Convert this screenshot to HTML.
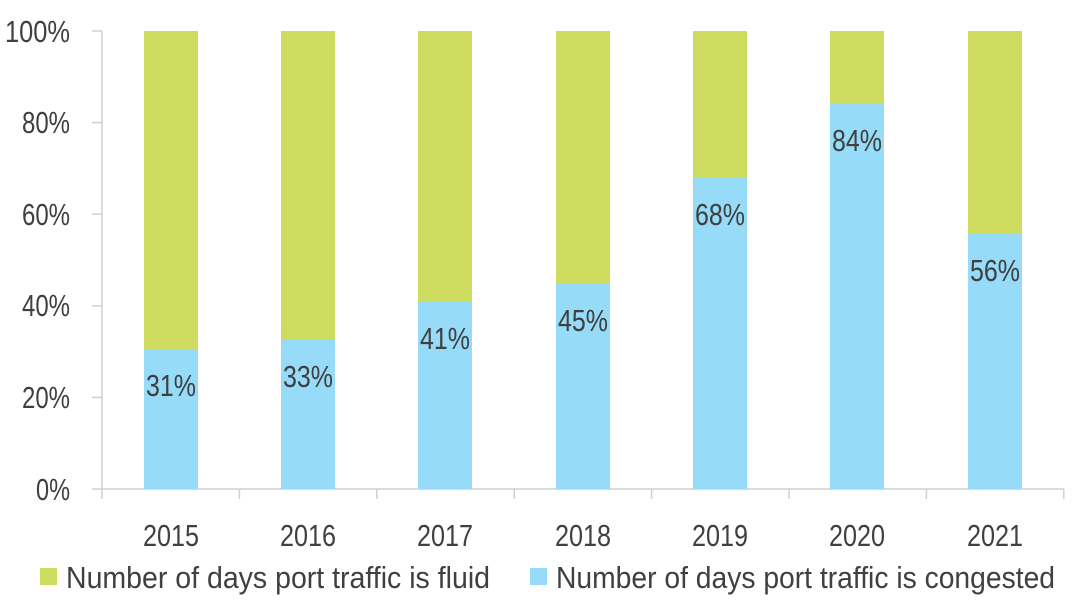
<!DOCTYPE html>
<html><head><style>
body{margin:0;background:#fff;}
svg text{font-family:"Liberation Sans",sans-serif;fill:#404040;}
</style></head><body>
<svg width="1080" height="606" viewBox="0 0 1080 606" xmlns="http://www.w3.org/2000/svg">
<g stroke="#d0d0d0" stroke-width="1.5" fill="none">
<line x1="102" y1="31" x2="102" y2="489"/>
<line x1="92" y1="31" x2="102" y2="31"/>
<line x1="92" y1="122.6" x2="102" y2="122.6"/>
<line x1="92" y1="214.2" x2="102" y2="214.2"/>
<line x1="92" y1="305.8" x2="102" y2="305.8"/>
<line x1="92" y1="397.4" x2="102" y2="397.4"/>
<line x1="92" y1="489" x2="1064" y2="489"/>
<line x1="102" y1="489" x2="102" y2="499"/>
<line x1="239.4" y1="489" x2="239.4" y2="499"/>
<line x1="376.8" y1="489" x2="376.8" y2="499"/>
<line x1="514.2" y1="489" x2="514.2" y2="499"/>
<line x1="651.6" y1="489" x2="651.6" y2="499"/>
<line x1="789" y1="489" x2="789" y2="499"/>
<line x1="926.4" y1="489" x2="926.4" y2="499"/>
<line x1="1063.8" y1="489" x2="1063.8" y2="499"/>
</g>
<g font-size="31" text-anchor="end" lengthAdjust="spacingAndGlyphs">
<text x="70" y="42" textLength="65" lengthAdjust="spacingAndGlyphs">100%</text>
<text x="70" y="133" textLength="48" lengthAdjust="spacingAndGlyphs">80%</text>
<text x="70" y="225" textLength="48" lengthAdjust="spacingAndGlyphs">60%</text>
<text x="70" y="316" textLength="48" lengthAdjust="spacingAndGlyphs">40%</text>
<text x="70" y="408" textLength="48" lengthAdjust="spacingAndGlyphs">20%</text>
<text x="70" y="500" textLength="34" lengthAdjust="spacingAndGlyphs">0%</text>
</g>
<g>
<rect x="144" y="31" width="54" height="458" fill="#cddc5f"/><rect x="144" y="349" width="54" height="140" fill="#96dbf8"/>
<rect x="281" y="31" width="54" height="458" fill="#cddc5f"/><rect x="281" y="340" width="54" height="149" fill="#96dbf8"/>
<rect x="418" y="31" width="54" height="458" fill="#cddc5f"/><rect x="418" y="302" width="54" height="187" fill="#96dbf8"/>
<rect x="556" y="31" width="54" height="458" fill="#cddc5f"/><rect x="556" y="284" width="54" height="205" fill="#96dbf8"/>
<rect x="693" y="31" width="54" height="458" fill="#cddc5f"/><rect x="693" y="177" width="54" height="312" fill="#96dbf8"/>
<rect x="830" y="31" width="54" height="458" fill="#cddc5f"/><rect x="830" y="104" width="54" height="385" fill="#96dbf8"/>
<rect x="968" y="31" width="54" height="458" fill="#cddc5f"/><rect x="968" y="234" width="54" height="255" fill="#96dbf8"/>
</g>
<g font-size="31" text-anchor="middle">
<text x="171" y="396" textLength="50" lengthAdjust="spacingAndGlyphs">31%</text>
<text x="308" y="387" textLength="50" lengthAdjust="spacingAndGlyphs">33%</text>
<text x="445" y="349" textLength="50" lengthAdjust="spacingAndGlyphs">41%</text>
<text x="583" y="331" textLength="50" lengthAdjust="spacingAndGlyphs">45%</text>
<text x="720" y="225" textLength="50" lengthAdjust="spacingAndGlyphs">68%</text>
<text x="857" y="151" textLength="50" lengthAdjust="spacingAndGlyphs">84%</text>
<text x="995" y="281" textLength="50" lengthAdjust="spacingAndGlyphs">56%</text>
</g>
<g font-size="31" text-anchor="middle">
<text x="171" y="546" textLength="56" lengthAdjust="spacingAndGlyphs">2015</text>
<text x="308" y="546" textLength="56" lengthAdjust="spacingAndGlyphs">2016</text>
<text x="445" y="546" textLength="56" lengthAdjust="spacingAndGlyphs">2017</text>
<text x="583" y="546" textLength="56" lengthAdjust="spacingAndGlyphs">2018</text>
<text x="720" y="546" textLength="56" lengthAdjust="spacingAndGlyphs">2019</text>
<text x="857" y="546" textLength="56" lengthAdjust="spacingAndGlyphs">2020</text>
<text x="995" y="546" textLength="56" lengthAdjust="spacingAndGlyphs">2021</text>
</g>
<rect x="40" y="568" width="17" height="17" fill="#cddc5f"/>
<text x="66" y="588" font-size="31" textLength="424" lengthAdjust="spacingAndGlyphs">Number of days port traffic is fluid</text>
<rect x="530" y="568" width="17" height="17" fill="#96dbf8"/>
<text x="556" y="588" font-size="31" textLength="499" lengthAdjust="spacingAndGlyphs">Number of days port traffic is congested</text>
</svg>
</body></html>
